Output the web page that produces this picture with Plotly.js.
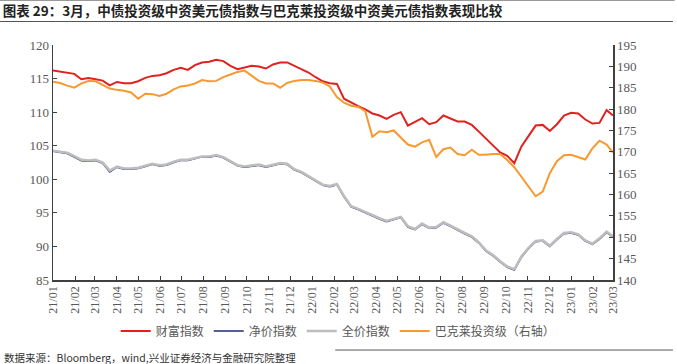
<!DOCTYPE html>
<html>
<head>
<meta charset="utf-8">
<script src="https://cdn.plot.ly/plotly-3.0.1.min.js"></script>
<style>
html,body{margin:0;padding:0;background:#fff;}
#chart{width:677px;height:364px;}
</style>
</head>
<body>
<div id="chart"></div>
<script>
const dates = [
"2021-01-01","2021-01-11","2021-01-21","2021-01-31","2021-02-10","2021-02-20","2021-03-02","2021-03-12","2021-03-22","2021-04-01",
"2021-04-11","2021-04-21","2021-05-01","2021-05-11","2021-05-21","2021-05-31","2021-06-10","2021-06-20","2021-06-30","2021-07-10",
"2021-07-20","2021-07-30","2021-08-09","2021-08-19","2021-08-29","2021-09-08","2021-09-18","2021-09-28","2021-10-08","2021-10-18",
"2021-10-28","2021-11-07","2021-11-17","2021-11-27","2021-12-07","2021-12-17","2021-12-27","2022-01-06","2022-01-16","2022-01-26",
"2022-02-05","2022-02-15","2022-02-25","2022-03-07","2022-03-17","2022-03-27","2022-04-06","2022-04-16","2022-04-26","2022-05-06",
"2022-05-16","2022-05-26","2022-06-05","2022-06-15","2022-06-25","2022-07-05","2022-07-15","2022-07-25","2022-08-04","2022-08-14",
"2022-08-24","2022-09-03","2022-09-13","2022-09-23","2022-10-03","2022-10-13","2022-10-23","2022-11-02","2022-11-12","2022-11-22",
"2022-12-02","2022-12-12","2022-12-22","2023-01-01","2023-01-11","2023-01-21","2023-01-31","2023-02-10","2023-02-20","2023-03-01"
];
// 财富指数 (left axis)
const wealthIndex = [
116.2,116.0,115.9,115.7,114.9,115.1,114.9,114.7,114.0,114.5,
114.3,114.3,114.6,115.1,115.4,115.5,115.8,116.3,116.6,116.3,
117.0,117.4,117.5,117.8,117.6,116.9,116.4,116.6,116.9,116.8,
116.5,117.1,117.4,117.4,116.9,116.4,115.9,115.2,114.6,114.3,
114.2,112.0,111.4,110.9,110.4,109.8,109.5,109.0,109.6,110.0,
108.0,108.5,109.1,108.2,108.5,109.5,109.0,108.6,108.6,108.1,
107.1,106.1,105.1,104.0,103.5,102.4,104.9,106.4,108.0,108.1,
107.2,108.2,109.5,109.9,109.8,108.9,108.3,108.4,110.3,109.5
];
// 净价指数 (left axis)
const netPriceIndex = [
104.2,104.0,103.85,103.3,102.75,102.7,102.8,102.4,101.1,101.8,
101.5,101.5,101.6,101.9,102.25,102.0,102.1,102.5,102.85,102.8,
103.1,103.35,103.3,103.5,103.2,102.6,102.0,101.8,102.0,102.1,
101.8,102.1,102.3,102.2,101.4,101.0,100.4,99.8,99.1,98.9,
99.2,97.4,95.9,95.5,95.0,94.5,94.1,93.7,94.0,94.3,
92.9,92.5,93.3,92.7,92.8,93.5,93.0,92.4,91.9,91.4,
90.5,89.3,88.6,87.7,86.9,86.5,88.4,89.7,90.7,90.8,
90.0,91.0,91.9,92.0,91.7,90.8,90.3,91.1,92.1,91.4
];
// 全价指数 (left axis)
const fullPriceIndex = [
104.25,104.1,103.95,103.45,102.9,102.8,102.9,102.5,101.3,101.9,
101.6,101.6,101.7,102.0,102.3,102.1,102.2,102.6,102.9,102.9,
103.2,103.4,103.4,103.6,103.3,102.7,102.1,101.9,102.1,102.2,
101.9,102.2,102.4,102.3,101.5,101.1,100.5,99.9,99.2,99.0,
99.3,97.5,96.0,95.6,95.1,94.6,94.2,93.8,94.1,94.4,
93.0,92.6,93.4,92.8,92.9,93.6,93.1,92.5,92.0,91.5,
90.6,89.4,88.7,87.8,87.0,86.6,88.5,89.8,90.8,90.9,
90.1,91.1,92.0,92.1,91.8,90.9,90.4,91.2,92.2,91.5
];
// 巴克莱投资级 (right axis)
const barclaysIG = [
186.4,186.1,185.5,185.0,186.0,186.6,186.5,185.7,184.8,184.5,
184.3,183.9,182.4,183.6,183.5,183.1,183.6,184.6,185.3,185.5,
186.0,186.8,186.5,186.6,187.5,188.1,188.7,189.0,187.8,186.6,
186.0,186.0,185.0,186.1,186.6,186.8,186.8,186.6,186.2,185.3,
182.8,181.5,180.8,180.5,179.5,173.5,174.8,174.6,175.0,173.3,
171.7,171.2,172.2,172.8,168.8,170.6,171.0,169.5,169.2,170.5,
169.3,169.3,169.5,169.5,168.1,166.4,164.1,161.8,159.6,160.7,
165.0,167.8,169.2,169.3,168.8,168.2,170.8,172.6,171.7,169.8
];
const seriesNames = ["财富指数","净价指数","全价指数","巴克莱投资级（右轴）"];
const titleText = "图表 29：3月，中债投资级中资美元债指数与巴克莱投资级中资美元债指数表现比较";
const sourceText = "数据来源：Bloomberg，wind,兴业证券经济与金融研究院整理";

const cjk = '"Noto Sans CJK SC", "Noto Sans", sans-serif';
const serif = '"Liberation Serif", "Times New Roman", serif';
const gray = '#595959';

const traces = [
  {x: dates, y: wealthIndex, name: seriesNames[0], type: 'scatter', mode: 'lines',
   line: {color: '#e0221f', width: 2}, yaxis: 'y'},
  {x: dates, y: netPriceIndex, name: seriesNames[1], type: 'scatter', mode: 'lines',
   line: {color: '#1f2a78', width: 1.6}, yaxis: 'y'},
  {x: dates, y: fullPriceIndex, name: seriesNames[2], type: 'scatter', mode: 'lines',
   line: {color: '#bdbdbd', width: 2.6}, yaxis: 'y'},
  {x: dates, y: barclaysIG, name: seriesNames[3], type: 'scatter', mode: 'lines',
   line: {color: '#f8992f', width: 2}, yaxis: 'y2'}
];

const layout = {
  width: 677, height: 364,
  margin: {l: 53, r: 64, t: 45, b: 84},
  paper_bgcolor: '#fff', plot_bgcolor: '#fff',
  showlegend: true,
  title: {text: '<b>' + titleText + '</b>', font: {family: cjk, size: 13.5, color: '#222'},
          xref: 'container', yref: 'container', x: 0.004, xanchor: 'left', y: 0.968, yanchor: 'middle'},
  xaxis: {
    type: 'date', range: ['2021-01-01', '2023-03-01'],
    tickmode: 'linear', tick0: '2021-01-01', dtick: 'M1', tickformat: '%y/%m',
    tickangle: -90, ticks: 'inside', ticklen: 4, tickcolor: '#404040',
    showline: true, linecolor: '#404040', linewidth: 1.5, showgrid: false, zeroline: false,
    tickfont: {family: serif, size: 12, color: gray}
  },
  yaxis: {
    range: [85, 120], dtick: 5, tick0: 85, ticks: 'inside', ticklen: 4, tickcolor: '#404040',
    showline: true, linecolor: '#404040', linewidth: 1.5, showgrid: false, zeroline: false,
    tickfont: {family: serif, size: 13, color: gray}
  },
  yaxis2: {
    range: [140, 195], dtick: 5, tick0: 140, overlaying: 'y', side: 'right',
    ticks: 'inside', ticklen: 4, tickcolor: '#404040',
    showline: true, linecolor: '#404040', linewidth: 1.5, showgrid: false, zeroline: false,
    tickfont: {family: serif, size: 13, color: gray}
  },
  legend: {
    orientation: 'h', x: 0.112, xanchor: 'left', y: -0.217, yanchor: 'middle',
    font: {family: cjk, size: 12, color: gray},
    bgcolor: 'rgba(0,0,0,0)'
  },
  annotations: [
    {text: sourceText, xref: 'paper', yref: 'paper', x: -0.091, y: -0.33, xanchor: 'left', yanchor: 'middle',
     showarrow: false, font: {family: cjk, size: 10.5, color: '#333'}}
  ],
  shapes: [
    {type: 'line', xref: 'paper', yref: 'paper', x0: -0.095, x1: 1.11, y0: 1.19, y1: 1.19,
     line: {color: '#999', width: 1.5}},
    {type: 'line', xref: 'paper', yref: 'paper', x0: -0.095, x1: 1.107, y0: 1.1, y1: 1.1,
     line: {color: '#555', width: 1.2}},
    {type: 'line', xref: 'paper', yref: 'paper', x0: 0.504, x1: 1.107, y0: -0.298, y1: -0.298,
     line: {color: '#555', width: 1}}
  ]
};

Plotly.newPlot('chart', traces, layout, {displayModeBar: false, staticPlot: true});
</script>
</body>
</html>
